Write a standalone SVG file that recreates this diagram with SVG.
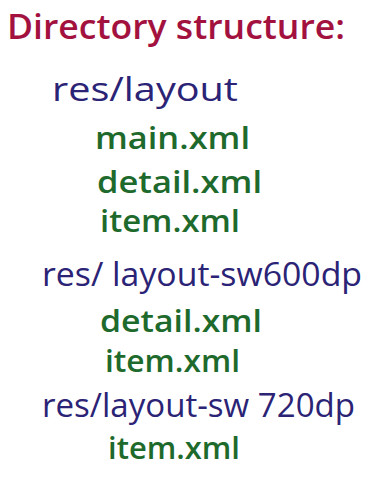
<svg xmlns="http://www.w3.org/2000/svg" width="384" height="503" viewBox="0 0 384 503">
  <style>
    .title { font-family: "Open Sans", "DejaVu Sans", sans-serif; font-size: 34px; font-weight: 600; fill: #a3123f; }
    .dir { font-family: "Open Sans", "DejaVu Sans", sans-serif; font-size: 33px; font-weight: 500; fill: #2b2375; }
    .file { font-family: "Open Sans", "DejaVu Sans", sans-serif; font-size: 30px; font-weight: 600; fill: #1e6a2c; }
  </style>
  <rect width="384" height="503" fill="#ffffff"/>
  <g id="title">
    <text class="title" x="7" y="39" textLength="338" lengthAdjust="spacingAndGlyphs">Directory structure:</text>
  </g>
  <g id="layout-default">
    <text class="dir" x="52" y="101" textLength="186" lengthAdjust="spacingAndGlyphs">res/layout</text>
    <text class="file" x="95" y="149" textLength="155" lengthAdjust="spacingAndGlyphs">main.xml</text>
    <text class="file" x="97" y="193" textLength="165" lengthAdjust="spacingAndGlyphs">detail.xml</text>
    <text class="file" x="100" y="232" textLength="140" lengthAdjust="spacingAndGlyphs">item.xml</text>
  </g>
  <g id="layout-sw600dp">
    <text class="dir" x="42" y="286" textLength="320" lengthAdjust="spacingAndGlyphs">res/ layout-sw600dp</text>
    <text class="file" x="100" y="332" textLength="162" lengthAdjust="spacingAndGlyphs">detail.xml</text>
    <text class="file" x="105" y="372" textLength="135" lengthAdjust="spacingAndGlyphs">item.xml</text>
  </g>
  <g id="layout-sw720dp">
    <text class="dir" x="42" y="417" textLength="313" lengthAdjust="spacingAndGlyphs">res/layout-sw 720dp</text>
    <text class="file" x="108" y="459" textLength="132" lengthAdjust="spacingAndGlyphs">item.xml</text>
  </g>
</svg>
